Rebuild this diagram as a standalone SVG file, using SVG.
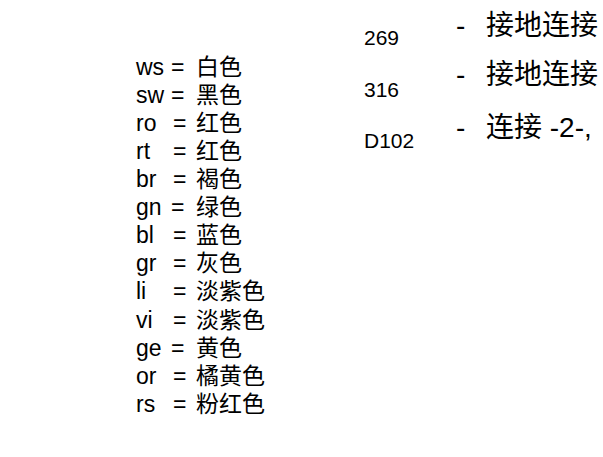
<svg xmlns="http://www.w3.org/2000/svg" width="603" height="457" viewBox="0 0 603 457">
<style>
.l{font-family:"Liberation Sans","Noto Sans CJK SC",sans-serif;font-size:23px;fill:#000}
.n{font-family:"Liberation Sans",sans-serif;font-size:21px;fill:#000}
.r{font-family:"Liberation Sans","Noto Sans CJK SC",sans-serif;font-size:28px;fill:#000}
</style>
<rect width="603" height="457" fill="#fff"/>
<g id="legend" class="l">
<text y="75"><tspan x="136">ws</tspan><tspan x="171">=</tspan><tspan x="196">白色</tspan></text>
<text y="103"><tspan x="136">sw</tspan><tspan x="171">=</tspan><tspan x="196">黑色</tspan></text>
<text y="131"><tspan x="136">ro</tspan><tspan x="173">=</tspan><tspan x="196">红色</tspan></text>
<text y="159"><tspan x="136">rt</tspan><tspan x="173">=</tspan><tspan x="196">红色</tspan></text>
<text y="187"><tspan x="136">br</tspan><tspan x="173">=</tspan><tspan x="196">褐色</tspan></text>
<text y="215"><tspan x="136">gn</tspan><tspan x="171">=</tspan><tspan x="196">绿色</tspan></text>
<text y="243"><tspan x="136">bl</tspan><tspan x="173">=</tspan><tspan x="196">蓝色</tspan></text>
<text y="271"><tspan x="136">gr</tspan><tspan x="173">=</tspan><tspan x="196">灰色</tspan></text>
<text y="299"><tspan x="136">li</tspan><tspan x="173">=</tspan><tspan x="196">淡紫色</tspan></text>
<text y="328"><tspan x="136">vi</tspan><tspan x="173">=</tspan><tspan x="196">淡紫色</tspan></text>
<text y="356"><tspan x="136">ge</tspan><tspan x="171">=</tspan><tspan x="196">黄色</tspan></text>
<text y="384"><tspan x="136">or</tspan><tspan x="173">=</tspan><tspan x="196">橘黄色</tspan></text>
<text y="412"><tspan x="136">rs</tspan><tspan x="173">=</tspan><tspan x="196">粉红色</tspan></text>
</g>
<g id="codes" class="n">
<text x="364" y="45">269</text>
<text x="364" y="97">316</text>
<text x="364" y="148">D102</text>
</g>
<g id="notes" class="r">
<text y="35"><tspan x="456">-</tspan><tspan x="486">接地连接</tspan></text>
<text y="84"><tspan x="456">-</tspan><tspan x="486">接地连接</tspan></text>
<text y="137"><tspan x="456">-</tspan><tspan x="486">连接 -2-,</tspan></text>
</g>
</svg>
